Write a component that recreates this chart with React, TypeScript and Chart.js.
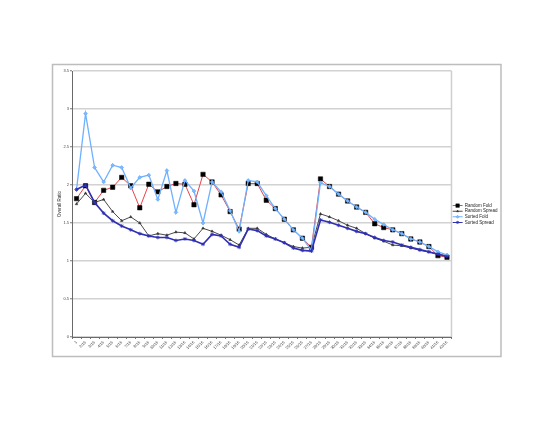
import React, { useEffect, useRef } from "react";
import { Chart, registerables } from "chart.js";
Chart.register(...registerables);

const categories = [
  "1", "2/16", "3/16", "4/16", "5/16", "6/16", "7/16", "8/16", "9/16", "10/16",
  "11/16", "12/16", "13/16", "14/16", "15/16", "16/16", "17/16", "18/16", "19/16", "20/16",
  "21/16", "22/16", "23/16", "24/16", "25/16", "26/16", "27/16", "28/16", "29/16", "30/16",
  "31/16", "32/16", "33/16", "34/16", "35/16", "36/16", "37/16", "38/16", "39/16", "40/16",
  "41/16", "42/16",
];

const randomFold = [
  1.82, 1.99, 1.77, 1.93, 1.97, 2.10, 1.99, 1.70, 2.01, 1.91, 1.98, 2.02, 2.01,
  1.74, 2.14, 2.04, 1.87, 1.65, 1.42, 2.02, 2.02, 1.80, 1.69, 1.55, 1.41, 1.30, 1.18,
  2.08, 1.98, 1.88, 1.79, 1.71, 1.64, 1.49, 1.44, 1.41, 1.36, 1.29, 1.25, 1.19, 1.07, 1.05,
];
const randomSpread = [
  1.75, 1.89, 1.77, 1.81, 1.65, 1.53, 1.58, 1.50, 1.33, 1.36, 1.34, 1.38, 1.37,
  1.29, 1.43, 1.39, 1.34, 1.28, 1.21, 1.43, 1.43, 1.35, 1.29, 1.24, 1.19, 1.17, 1.18,
  1.62, 1.58, 1.53, 1.47, 1.43, 1.36, 1.30, 1.26, 1.21, 1.20, 1.17, 1.14, 1.12, 1.09, 1.07,
];
const sortedFold = [
  1.94, 2.94, 2.23, 2.04, 2.26, 2.23, 1.96, 2.10, 2.13, 1.81, 2.19, 1.64, 2.06,
  1.92, 1.50, 2.04, 1.91, 1.66, 1.39, 2.06, 2.04, 1.86, 1.69, 1.55, 1.41, 1.30, 1.14,
  2.03, 1.98, 1.88, 1.79, 1.71, 1.64, 1.55, 1.48, 1.41, 1.36, 1.29, 1.25, 1.19, 1.12, 1.08,
];
const sortedSpread = [
  1.94, 2.00, 1.77, 1.63, 1.53, 1.46, 1.41, 1.36, 1.33, 1.31, 1.31, 1.27, 1.29,
  1.27, 1.22, 1.35, 1.33, 1.22, 1.18, 1.42, 1.40, 1.33, 1.29, 1.24, 1.17, 1.14, 1.13,
  1.54, 1.51, 1.47, 1.43, 1.39, 1.36, 1.31, 1.27, 1.25, 1.21, 1.18, 1.15, 1.12, 1.09, 1.06,
];
const seriesNames = ["Random Fold", "Random Spread", "Sorted Fold", "Sorted Spread"];
const yTicks = [0, 0.5, 1, 1.5, 2, 2.5, 3, 3.5];

const FONT = "'Liberation Sans', Arial, sans-serif";
const LEGEND_FONT = 4.5;
const LEGEND_PAD = 1.1;
const LEGEND_BOX = 10;

function drawMarker(ctx: CanvasRenderingContext2D, style: string, x: number, y: number, r: number, fill: string, stroke: string, lw: number) {
  ctx.save();
  ctx.fillStyle = fill;
  ctx.strokeStyle = stroke;
  ctx.lineWidth = lw;
  ctx.beginPath();
  if (style === "rect") {
    const s = r * Math.SQRT1_2;
    ctx.rect(x - s, y - s, 2 * s, 2 * s);
    ctx.fill();
    ctx.stroke();
  } else if (style === "rectRot") {
    ctx.moveTo(x, y - r);
    ctx.lineTo(x + r, y);
    ctx.lineTo(x, y + r);
    ctx.lineTo(x - r, y);
    ctx.closePath();
    ctx.fill();
    ctx.stroke();
  } else if (style === "triangle") {
    ctx.moveTo(x, y - r);
    ctx.lineTo(x + r * 0.87, y + r * 0.5);
    ctx.lineTo(x - r * 0.87, y + r * 0.5);
    ctx.closePath();
    ctx.fill();
    ctx.stroke();
  } else if (style === "star") {
    ctx.moveTo(x - r, y);
    ctx.lineTo(x + r, y);
    ctx.moveTo(x, y - r);
    ctx.lineTo(x, y + r);
    const d = r * Math.SQRT1_2;
    ctx.moveTo(x - d, y - d);
    ctx.lineTo(x + d, y + d);
    ctx.moveTo(x - d, y + d);
    ctx.lineTo(x + d, y - d);
    ctx.stroke();
  }
  ctx.restore();
}

export default function App() {
  const ref = useRef<HTMLCanvasElement>(null);

  useEffect(() => {
    if (!ref.current) return;

    const styles = [
      { line: "#e8434a", width: 1, ps: "rect", pr: 3.1, pf: "#000000", pb: "#000000", pbw: 0.5 },
      { line: "#4a4a4a", width: 1, ps: "triangle", pr: 1.5, pf: "#333333", pb: "#333333", pbw: 0.5 },
      { line: "#6eb1ff", width: 1.3, ps: "rectRot", pr: 1.9, pf: "#7db9ff", pb: "#5ea4f5", pbw: 0.6 },
      { line: "#3030b4", width: 1.6, ps: "star", pr: 1.9, pf: "#3030b4", pb: "#3030b4", pbw: 0.8 },
    ];
    const values = [randomFold, randomSpread, sortedFold, sortedSpread];

    // measure legend width so the plot area ends right where the legend starts
    const mctx = document.createElement("canvas").getContext("2d") as CanvasRenderingContext2D;
    mctx.font = `${LEGEND_FONT}px ${FONT}`;
    const tw = Math.max(...seriesNames.map((n) => mctx.measureText(n).width));
    // Chart.js vertical legend width: padding + box + font/2 + text + 10
    const legendW = LEGEND_PAD + LEGEND_BOX + LEGEND_FONT / 2 + tw + 10;
    const legendLeft = 451.5;
    const padRight = Math.max(0, 554 - legendLeft - legendW);

    const framePlugin = {
      id: "frame",
      beforeDraw(chart: any) {
        const ctx = chart.ctx as CanvasRenderingContext2D;
        ctx.save();
        ctx.fillStyle = "#ffffff";
        ctx.fillRect(0, 0, chart.width, chart.height);
        ctx.strokeStyle = "#bdbdbd";
        ctx.lineWidth = 1.5;
        ctx.strokeRect(52.5, 64.5, 448.5, 292);
        ctx.restore();
      },
      beforeDatasetsDraw(chart: any) {
        const ctx = chart.ctx as CanvasRenderingContext2D;
        const a = chart.chartArea;
        ctx.save();
        ctx.strokeStyle = "#cfcfcf";
        ctx.lineWidth = 1.5;
        ctx.beginPath();
        ctx.moveTo(a.right, a.top);
        ctx.lineTo(a.right, a.bottom);
        ctx.stroke();
        ctx.restore();
      },
      afterDraw(chart: any) {
        const ctx = chart.ctx as CanvasRenderingContext2D;
        const legend = chart.legend;
        if (!legend || !legend.legendHitBoxes) return;
        legend.legendItems.forEach((item: any, i: number) => {
          const hb = legend.legendHitBoxes[i];
          const st = styles[item.datasetIndex];
          drawMarker(ctx, st.ps, hb.left + LEGEND_BOX / 2, hb.top + hb.height / 2, st.pr * 0.8, st.pf, st.pb, st.pbw);
        });
      },
    };

    const chart = new Chart(ref.current, {
      type: "line",
      data: {
        labels: categories,
        datasets: values.map((v, i) => ({
          label: seriesNames[i],
          data: v,
          order: 4 - i,
          borderColor: styles[i].line,
          backgroundColor: styles[i].line,
          borderWidth: styles[i].width,
          pointStyle: styles[i].ps as any,
          pointRadius: styles[i].pr,
          pointBackgroundColor: styles[i].pf,
          pointBorderColor: styles[i].pb,
          pointBorderWidth: styles[i].pbw,
          tension: 0,
          fill: false,
        })),
      },
      options: {
        responsive: false,
        animation: false,
        devicePixelRatio: 1,
        layout: { padding: { left: 55, top: 71, right: padRight, bottom: 71 } },
        scales: {
          x: {
            type: "category",
            offset: true,
            grid: {
              display: true,
              drawOnChartArea: false,
              drawTicks: true,
              tickLength: 2,
              color: "#777777",
              offset: true,
            },
            border: { display: true, color: "#6a6a6a", width: 1 },
            ticks: {
              autoSkip: false,
              minRotation: 45,
              maxRotation: 45,
              padding: 1,
              color: "#444444",
              font: { size: 4, family: FONT },
            },
            afterFit: (s: any) => {
              s.height = 20;
            },
          },
          y: {
            min: 0,
            max: 3.5,
            afterBuildTicks: (s: any) => {
              s.ticks = yTicks.map((v) => ({ value: v }));
            },
            ticks: {
              padding: 1,
              color: "#444444",
              font: { size: 4, family: FONT },
              callback: (v: any) => String(v),
            },
            grid: {
              color: "#d2d2d2",
              lineWidth: 1.5,
              drawTicks: true,
              tickLength: 2,
              tickColor: "#777777",
              tickWidth: 1,
            },
            border: { display: true, color: "#6a6a6a", width: 1 },
            title: {
              display: true,
              text: "Overall Ratio",
              color: "#333333",
              font: { size: 4.5, family: FONT },
              padding: { top: 2, bottom: 0 },
            },
            afterFit: (s: any) => {
              s.width = 17;
            },
          },
        },
        plugins: {
          legend: {
            position: "right",
            reverse: true,
            labels: {
              boxWidth: LEGEND_BOX,
              boxHeight: 1,
              padding: LEGEND_PAD,
              color: "#222222",
              font: { size: LEGEND_FONT, family: FONT },
              generateLabels: (c: any) =>
                (Chart as any).defaults.plugins.legend.labels.generateLabels(c).map((l: any) => ({
                  ...l,
                  fillStyle: l.strokeStyle,
                  lineWidth: 0,
                })),
            },
          },
          tooltip: { enabled: false },
        },
      },
      plugins: [framePlugin],
    });

    return () => chart.destroy();
  }, []);

  return (
    <div style={{ position: "fixed", left: 0, top: 0, width: 554, height: 428, background: "#ffffff" }}>
      <canvas ref={ref} width={554} height={428} style={{ width: 554, height: 428, display: "block" }} />
    </div>
  );
}
